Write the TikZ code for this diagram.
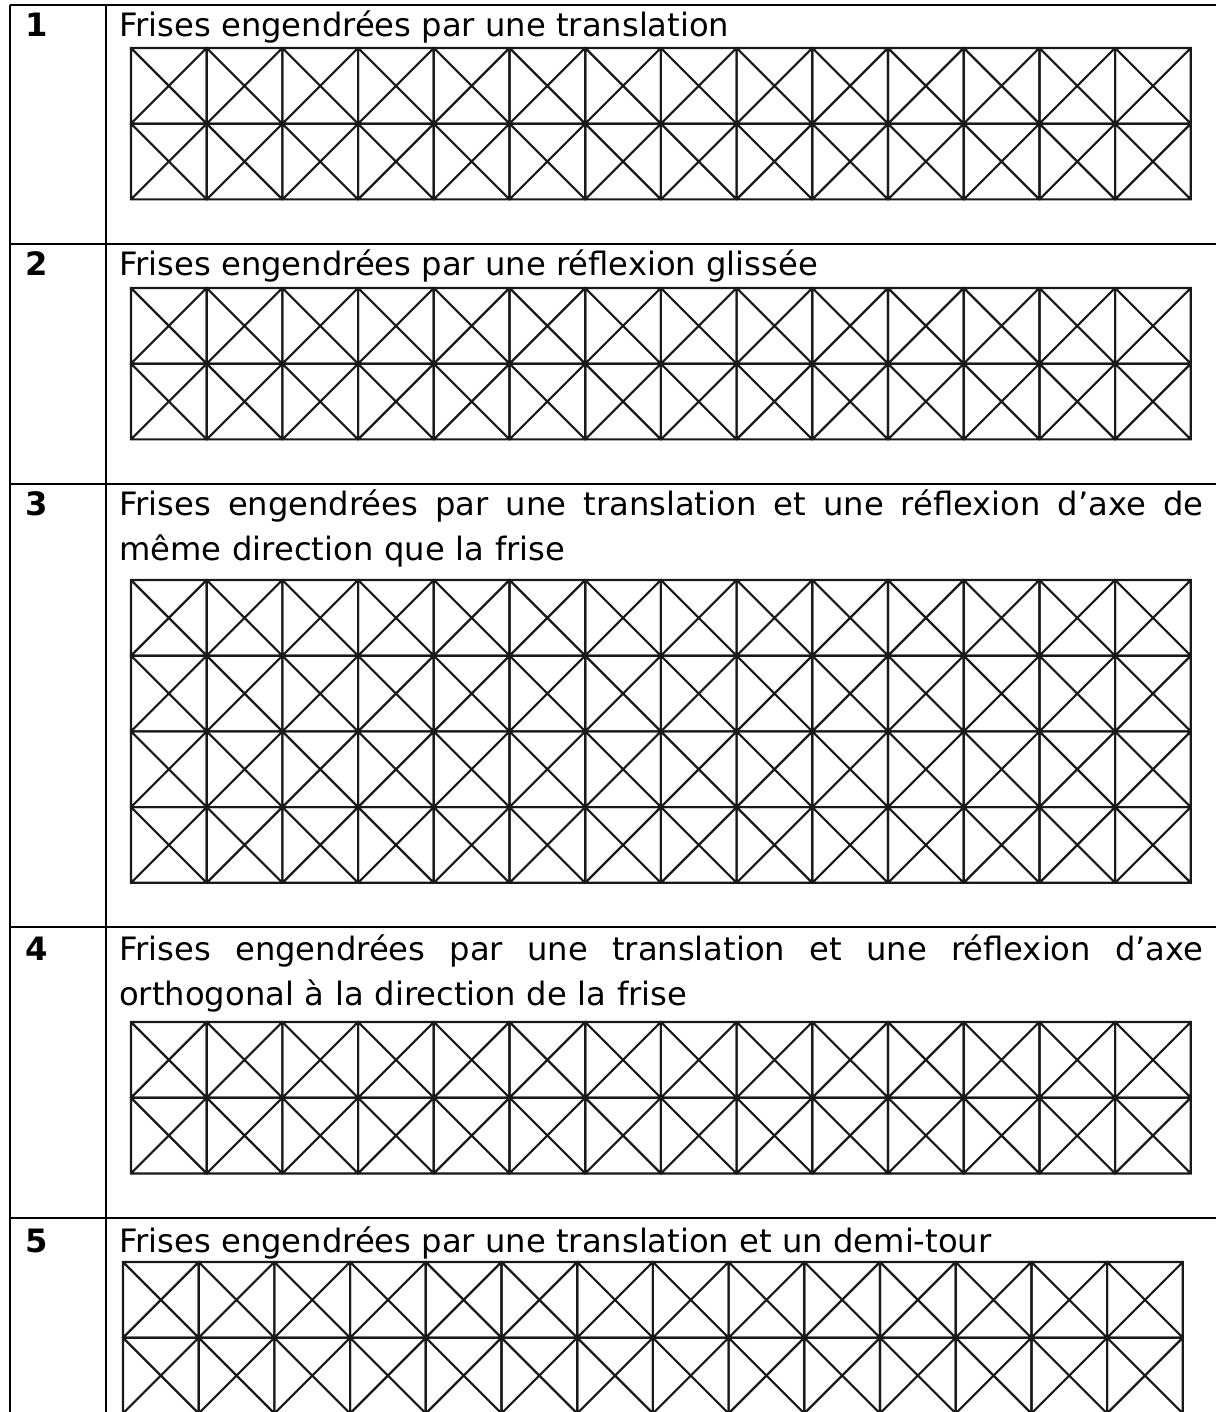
\documentclass[tikz,border=0pt]{standalone}
\usepackage{fontspec}
\setmainfont{DejaVu Sans}
\usetikzlibrary{positioning}
\hyphenpenalty=10000
\def\fcell{75.7}

\begin{document}
\begin{tikzpicture}[
    x=0.025cm, y=-0.025cm,
    tabline/.style={line width=1.8pt, draw=black},
    cellline/.style={line width=1.55pt, draw=black!90, line join=miter},
    numtxt/.style={anchor=base west, inner sep=0pt, font=\fontsize{22.9}{32}\selectfont\bfseries},
    rowtxt/.style={anchor=base west, inner sep=0pt, font=\fontsize{22.9}{32}\selectfont},
    widetxt/.style={rowtxt, text width=27.1cm, align=left}
]
\useasboundingbox (0,0) rectangle (1216,1412);

% 1. Table rules
\foreach \ry in {5,244,484,927,1218}
    \draw[tabline] (10,\ry) -- (1216,\ry);
\draw[tabline] (10,5) -- (10,1412);
\draw[tabline] (106,5) -- (106,1412);

% 2. Row numbers
\node[numtxt] (num1) at (25,37) {1};
\node[numtxt] (num2) at (25,275) {2};
\node[numtxt] (num3) at (25,515) {3};
\node[numtxt] (num4) at (25,960) {4};
\node[numtxt] (num5) at (25,1252) {5};

% 3. Row titles (first line of 3 and 4 spread to the cell width)
\node[rowtxt] (txt1) at (119,37) {Frises engendrées par une translation};
\node[rowtxt] (txt2) at (119,275) {Frises engendrées par une réflexion glissée};
\node[widetxt] (txt3) at (119,515) {\hbox to 27.1cm{Frises \hfill engendrées \hfill par \hfill une \hfill translation \hfill et \hfill une \hfill réflexion \hfill d’axe \hfill de}\\même direction que la frise};
\node[widetxt] (txt4) at (119,960) {\hbox to 27.1cm{Frises \hfill engendrées \hfill par \hfill une \hfill translation \hfill et \hfill une \hfill réflexion \hfill d’axe}\\orthogonal à la direction de la frise};
\node[rowtxt] (txt5) at (119,1252) {Frises engendrées par une translation et un demi-tour};

% 4. Frieze grids (14 crossed squares per strip)
\foreach \gx/\gy/\nr in {131/48/2, 131/288/2, 131/580/4, 131/1022/2, 123/1262/2}{
    \foreach \i in {0,...,13}
        \foreach \j in {1,...,\nr}
            \draw[cellline] ({\gx+\i*\fcell},{\gy+(\j-1)*\fcell}) rectangle ++(\fcell,\fcell)
                ({\gx+\i*\fcell},{\gy+(\j-1)*\fcell}) -- ++(\fcell,\fcell)
                ({\gx+(\i+1)*\fcell},{\gy+(\j-1)*\fcell}) -- ++(-\fcell,\fcell);
}

\end{tikzpicture}
\end{document}
